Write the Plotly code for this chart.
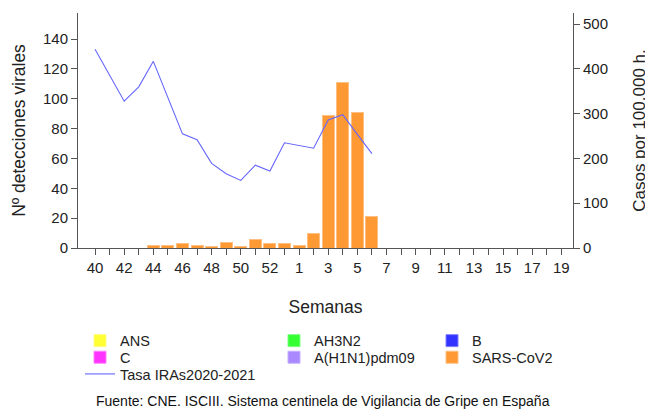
import plotly.graph_objects as go

semanas = ["40", "41", "42", "43", "44", "45", "46", "47", "48", "49", "50", "51", "52", "53",
           "1", "2", "3", "4", "5", "6", "7", "8", "9", "10", "11", "12", "13", "14", "15",
           "16", "17", "18", "19"]
tick_labels = ["40", "", "42", "", "44", "", "46", "", "48", "", "50", "", "52", "",
               "1", "", "3", "", "5", "", "7", "", "9", "", "11", "", "13", "", "15",
               "", "17", "", "19"]

semanas_datos = ["40", "41", "42", "43", "44", "45", "46", "47", "48", "49", "50", "51", "52", "53",
                 "1", "2", "3", "4", "5", "6"]
ans = [0, 0, 0, 0, 0, 0, 0, 0, 0, 0, 0, 0, 0, 0, 0, 0, 0, 0, 0, 0]
ah3n2 = [0, 0, 0, 0, 0, 0, 0, 0, 0, 0, 0, 0, 0, 0, 0, 0, 0, 0, 0, 0]
b = [0, 0, 0, 0, 0, 0, 0, 0, 0, 0, 0, 0, 0, 0, 0, 0, 0, 0, 0, 0]
c = [0, 0, 0, 0, 0, 0, 0, 0, 0, 0, 0, 0, 0, 0, 0, 0, 0, 0, 0, 0]
h1n1 = [0, 0, 0, 0, 0, 0, 0, 0, 0, 0, 0, 0, 0, 0, 0, 0, 0, 0, 0, 0]
sars_cov2 = [0, 0, 0, 0, 2, 2, 3, 2, 1, 4, 1, 6, 3, 3, 2, 10, 89, 111, 91, 21]
tasa_iras = [444, 386, 328, 360, 417, 336, 255, 242, 189, 166, 151, 185, 172, 235, 229, 223,
             286, 298, 254, 211]

FONT = "Liberation Sans, Arial, sans-serif"
TXT = "#222222"
AX = "#555555"

# The page body has an 8px margin, so the figure is drawn 8px right/down.
OFF = 8
W, H = 653 - OFF, 410 - OFF
L, R, T, B = 70, 80, 5, 162
PW = W - L - R
PH = H - T - B


def px_x(px):
    """page pixel x -> paper coordinate"""
    return (px - OFF - L) / PW


def px_y(py):
    """page pixel y -> paper coordinate"""
    return (H - B - (py - OFF)) / PH


fig = go.Figure()


def bar(name, vals, color, border, legend):
    fig.add_trace(go.Bar(
        x=semanas_datos, y=vals, name=name, legend=legend,
        marker=dict(color=color, line=dict(color=border, width=1)),
        yaxis="y",
    ))


bar("ANS", ans, "#ffff33", "#ffff80", "legend")
bar("C", c, "#ff33ff", "#ff80ff", "legend2")
bar("AH3N2", ah3n2, "#33ff33", "#80ff80", "legend4")
bar("A(H1N1)pdm09", h1n1, "#aa88ff", "#c4b0ff", "legend5")
bar("B", b, "#3333ff", "#8080ff", "legend6")
bar("SARS-CoV2", sars_cov2, "#ff9933", "#ffbf80", "legend7")

fig.add_trace(go.Scatter(
    x=semanas_datos, y=tasa_iras, name="Tasa IRAs2020-2021", mode="lines",
    line=dict(color="#6666ff", width=1.1), yaxis="y2", legend="legend3",
))

leg_common = dict(orientation="v", yanchor="middle", xanchor="left",
                  font=dict(size=14.5, family=FONT, color=TXT), tracegroupgap=0,
                  bgcolor="rgba(0,0,0,0)", itemwidth=30, borderwidth=0)

rows = [340.7, 357.3, 374.0]
col_text = [120, 314, 472]


def leg(col, row):
    return dict(x=px_x(col_text[col] - 40), y=px_y(rows[row]), **leg_common)


fig.update_layout(
    width=W, height=H,
    margin=dict(l=L, r=R, t=T, b=B, autoexpand=False),
    paper_bgcolor="white", plot_bgcolor="white",
    font=dict(family=FONT, color=TXT, size=15),
    barmode="stack", bargap=0.18,
    showlegend=True,
    legend=leg(0, 0),
    legend2=leg(0, 1),
    legend3=leg(0, 2),
    legend4=leg(1, 0),
    legend5=leg(1, 1),
    legend6=leg(2, 0),
    legend7=leg(2, 1),
    xaxis=dict(
        type="category", categoryorder="array", categoryarray=semanas,
        tickmode="array", tickvals=semanas, ticktext=tick_labels,
        range=[-1.17, 32.8], automargin=False,
        showline=True, linecolor=AX, linewidth=1,
        ticks="outside", ticklen=6, tickcolor=AX,
        tickfont=dict(size=15, family=FONT, color=TXT),
        showgrid=False, zeroline=False,
        title=dict(text="Semanas", font=dict(size=17.5, family=FONT, color=TXT), standoff=25),
    ),
    yaxis=dict(
        range=[0, 157.5], tickvals=[0, 20, 40, 60, 80, 100, 120, 140], automargin=False,
        showline=True, linecolor=AX, linewidth=1,
        ticks="outside", ticklen=6, tickcolor=AX,
        tickfont=dict(size=15, family=FONT, color=TXT),
        showgrid=False, zeroline=False,
        title=dict(text="Nº detecciones virales", font=dict(size=17.5, family=FONT, color=TXT), standoff=12),
    ),
    yaxis2=dict(
        range=[0, 525], tickvals=[0, 100, 200, 300, 400, 500], automargin=False,
        overlaying="y", side="right",
        showline=True, linecolor=AX, linewidth=1,
        ticks="outside", ticklen=6, tickcolor=AX,
        tickfont=dict(size=15, family=FONT, color=TXT),
        showgrid=False, zeroline=False,
        title=dict(text="Casos por 100.000 h.", font=dict(size=17, family=FONT, color=TXT), standoff=26),
    ),
    annotations=[dict(
        text="Fuente: CNE. ISCIII. Sistema centinela de Vigilancia de Gripe en España",
        xref="paper", yref="paper", x=px_x(323), y=px_y(401), xanchor="center", yanchor="middle",
        showarrow=False, font=dict(size=14, family=FONT, color="#111111"),
    )],
)

fig.write_html("out.html")
